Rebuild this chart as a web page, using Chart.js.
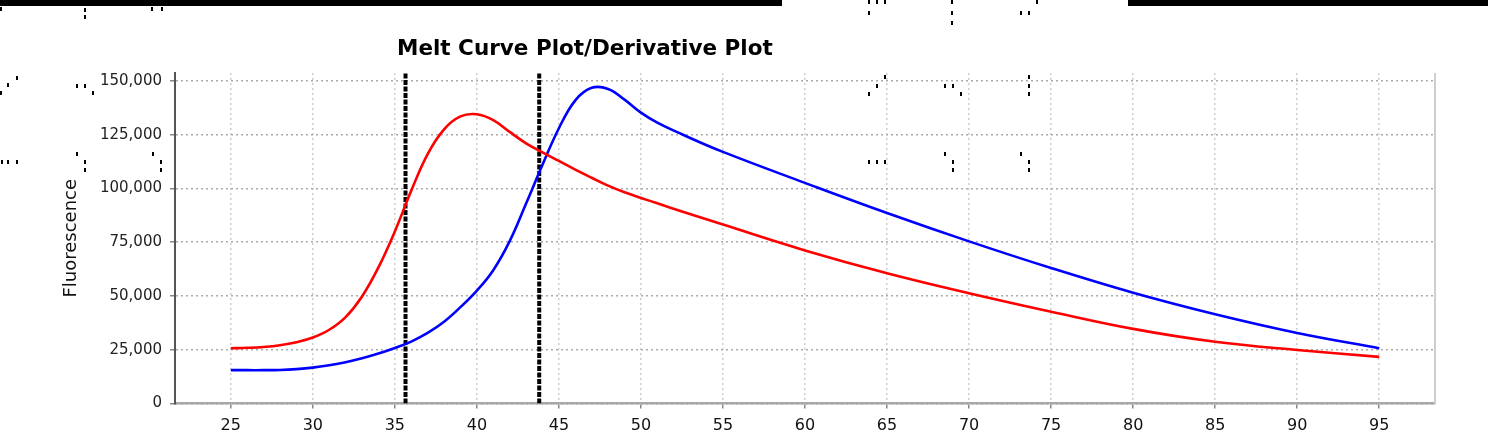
<!DOCTYPE html>
<html><head><meta charset="utf-8">
<script src="https://cdn.jsdelivr.net/npm/chart.js@4/dist/chart.umd.min.js"></script>
<style>
html,body{margin:0;padding:0;background:#fff;}
#wrap{position:relative;width:1488px;height:438px;overflow:hidden;background:#fff;}
canvas{position:absolute;left:0;top:0;}
.bar{position:absolute;top:0;height:6px;background:#000;}
.dot{position:absolute;width:2px;height:4px;background:#000;}
#title{position:absolute;left:397px;top:36px;font:bold 21.5px "DejaVu Sans";line-height:24px;color:#000;white-space:nowrap;}
</style></head>
<body><div id="wrap"><canvas id="c" width="1488" height="438"></canvas>
<div class="bar" style="left:0;width:782px"></div>
<div class="bar" style="left:1128px;width:360px"></div>
<div id="title">Melt Curve Plot/Derivative Plot</div>
</div>
<script>
// ---- data ----
const temps      = [25,26,27,28,29,30,31,32,33,34,35,36,37,38,39,40,41,42,43,44,45,46,47,48,49,50,51,52.5,55,60,65,70,75,80,85,90,95];
const redValues  = [25700,25900,26300,27100,28500,30700,34300,40200,49800,63300,80000,99000,116000,127500,133500,134500,131800,126300,121000,116800,112800,108800,105000,101300,98200,95600,93100,89300,83200,71200,60600,51300,42700,34700,28700,24900,21700];
const blueValues = [15500,15500,15500,15600,16000,16700,17800,19200,21000,23200,25800,28800,32800,38000,44800,52500,62000,75500,93000,111000,128000,141000,146800,146300,141300,135300,130600,125200,117000,102600,88600,75400,63000,51500,41500,32800,25700];
const meltMarkers = [35.65, 43.8];
const xTicks = [25,30,35,40,45,50,55,60,65,70,75,80,85,90,95];
const yTicks = [0,25000,50000,75000,100000,125000,150000];
const xMin = 21.6, xMax = 98.4, yMin = 0, yMax = 153700;

// decorative specks from the reference crop
const specks = [[1,9],[85,10],[85,17],[152,9],[162,9],[869,13],[869,2],[877,2],[885,2],[952,2],[952,13],[952,23],[1021,13],[1029,13],[1037,2],
 [17,78],[8,85],[1,93],[77,86],[85,86],[93,93],[885,77],[877,86],[869,94],[945,86],[953,86],[961,94],[1029,77],[1029,86],[1029,94],
 [2,162],[8,162],[17,162],[77,154],[85,162],[85,170],[153,154],[161,162],[161,170],[869,162],[877,162],[885,162],[945,154],[953,162],[953,170],[1021,154],[1029,162],[1029,170]];
const wrap = document.getElementById('wrap');
specks.forEach(([x,y])=>{const d=document.createElement('div');d.className='dot';d.style.left=(x-1)+'px';d.style.top=(y-2)+'px';wrap.appendChild(d);});

const frame = {
  id:'frame',
  beforeDatasetsDraw(chart){
    const {ctx, chartArea:a} = chart;
    ctx.save();
    ctx.strokeStyle = '#cfcfcf'; ctx.lineWidth = 2;
    ctx.beginPath(); ctx.moveTo(a.right, a.top); ctx.lineTo(a.right, a.bottom); ctx.stroke();
    ctx.restore();
  }
};

const curve = (vals, color, label) => ({
  label, data: temps.map((t,i)=>({x:t, y:vals[i]})),
  borderColor: color, borderWidth: 2.6, pointRadius: 0, fill: false,
  tension: 0.4
});

new Chart(document.getElementById('c'), {
  type: 'line',
  data: { datasets: [
    curve(redValues, '#ff0000', 'Sample 1'),
    curve(blueValues, '#0000ff', 'Sample 2'),
    ...meltMarkers.map(m => ({
      label: 'Tm ' + m, data: [{x:m, y:yMin}, {x:m, y:yMax}],
      borderColor: '#000', borderWidth: 4, borderDash: [5,1.5], pointRadius: 0, fill: false, tension: 0
    }))
  ]},
  options: {
    responsive: false, animation: false, devicePixelRatio: 1,
    layout: { padding: { top: 73, right: 53, bottom: 0, left: 0 } },
    plugins: { legend: { display: false }, tooltip: { enabled: false } },
    scales: {
      x: {
        type: 'linear', min: xMin, max: xMax,
        afterBuildTicks: s => { s.ticks = xTicks.map(v => ({value: v})); },
        afterFit: s => { s.height = 34.5; },
        grid: { color: '#cdcdcd', lineWidth: 1.5, tickLength: 5, tickColor: '#888', tickWidth: 1.5, tickBorderDash: [] },
        border: { display: true, color: '#a8a8a8', width: 2.5, dash: [2,3] },
        ticks: { font: { family: 'DejaVu Sans', size: 16 }, color: '#111', padding: 8, maxRotation: 0, autoSkip: false,
                 callback: v => String(v) }
      },
      y: {
        type: 'linear', min: yMin, max: yMax,
        afterBuildTicks: s => { s.ticks = yTicks.map(v => ({value: v})); },
        afterFit: s => { s.width = 175; },
        grid: { color: '#aaaaaa', lineWidth: 1.5, tickLength: 5, tickColor: '#888', tickWidth: 1.5, tickBorderDash: [] },
        border: { display: true, color: '#555', width: 2, dash: [2,3] },
        ticks: { font: { family: 'DejaVu Sans', size: 15 }, color: '#222', padding: 8,
                 callback: v => Number(v).toLocaleString('en-US') },
        title: { display: true, text: 'Fluorescence', font: { family: 'DejaVu Sans', size: 18 }, color: '#111',
                 padding: { top: 61, bottom: 0 } }
      }
    }
  },
  plugins: [frame]
});
</script>
</body></html>
